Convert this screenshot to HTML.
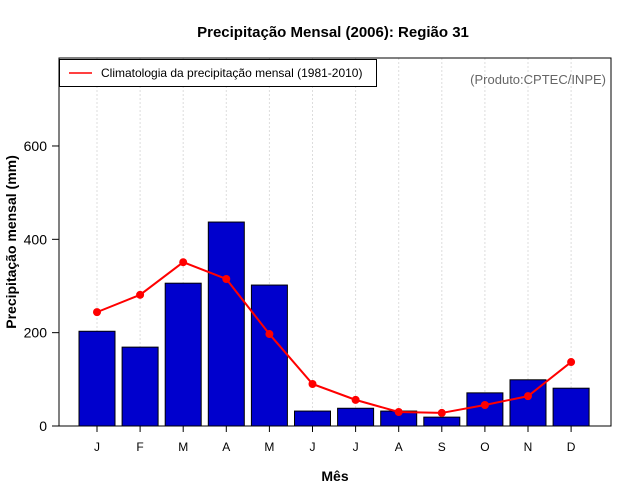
<!DOCTYPE html>
<html><head><meta charset="utf-8"><style>body{margin:0;background:#fff}svg{display:block;font-family:"Liberation Sans",sans-serif}</style></head>
<body>
<svg id="c" width="640" height="500"></svg>
<script>
const months=["J","F","M","A","M","J","J","A","S","O","N","D"];
const precip2006=[203,169,306,437,302,32,38,32,19,71,99,81];
const climatology=[244,281,351,315,197,90,56,30,28,45,64,137];
const yTicks=[0,200,400,600];
const NS="http://www.w3.org/2000/svg";
const svg=document.getElementById("c");
const L=59,R=611,T=58,B=426;
const x=i=>97+i*43.1;
const y=v=>B-v*0.4667;
function add(tag,attrs,parent){const e=document.createElementNS(NS,tag);for(const k in attrs)e.setAttribute(k,attrs[k]);(parent||svg).appendChild(e);return e;}
let t;
t=add("text",{x:333,y:37,"text-anchor":"middle","font-size":15,"font-weight":"bold"});t.textContent="Precipitação Mensal (2006): Região 31";

months.forEach((m,i)=>{const g=add("line",{x1:x(i),x2:x(i),y1:T,y2:B,stroke:"#ddd","stroke-dasharray":"2,2"});
});
precip2006.forEach((v,i)=>{const b=add("rect",{x:x(i)-18,y:y(v),width:36,height:B-y(v),fill:"#0000cd",stroke:"#000","stroke-width":1});
});
const pl=add("polyline",{points:climatology.map((v,i)=>x(i)+","+y(v)).join(" "),fill:"none",stroke:"#f00","stroke-width":2});

climatology.forEach((v,i)=>{const c=add("circle",{cx:x(i),cy:y(v),r:4,fill:"#f00"});
});
const box=add("rect",{x:L,y:T,width:R-L,height:B-T,fill:"none",stroke:"#000","stroke-width":1});

yTicks.forEach(v=>{add("line",{x1:L-7,x2:L,y1:y(v),y2:y(v),stroke:"#000"});
const l=add("text",{x:L-12,y:y(v)+5,"text-anchor":"end","font-size":14});l.textContent=v;
});
months.forEach((m,i)=>{add("line",{x1:x(i),x2:x(i),y1:B,y2:B+6,stroke:"#000"});
const l=add("text",{x:x(i),y:B+25,"text-anchor":"middle","font-size":12});l.textContent=m;
});
t=add("text",{x:335,y:481,"text-anchor":"middle","font-size":14,"font-weight":"bold"});t.textContent="Mês";

t=add("text",{x:0,y:0,"text-anchor":"middle","font-size":14,"font-weight":"bold",transform:"translate(16,242) rotate(-90)"});t.textContent="Precipitação mensal (mm)";

const lg=add("g",{});
add("rect",{x:59.5,y:59.5,width:317,height:27,fill:"#fff",stroke:"#000"},lg);
add("line",{x1:69,x2:92,y1:73,y2:73,stroke:"#f00","stroke-width":1.5},lg);
t=add("text",{x:101,y:77,"font-size":12},lg);t.textContent="Climatologia da precipitação mensal (1981-2010)";

t=add("text",{x:606,y:84,"text-anchor":"end","font-size":13,fill:"#666"});t.textContent="(Produto:CPTEC/INPE)";

</script>
</body></html>
